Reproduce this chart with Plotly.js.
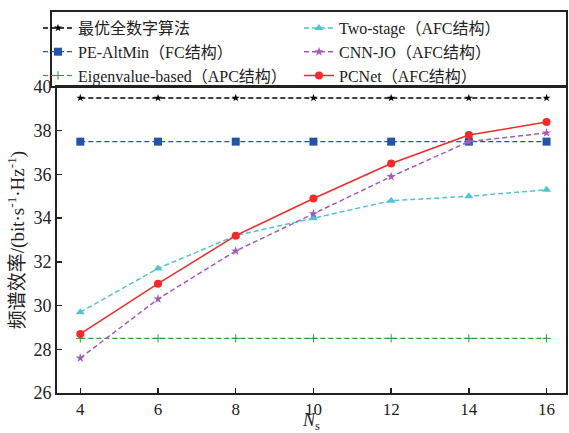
<!DOCTYPE html>
<html>
<head>
<meta charset="utf-8">
<script src="https://cdn.plot.ly/plotly-3.0.1.min.js"></script>
<style>html,body{margin:0;padding:0;background:#fff;}#chart{width:569px;height:433px;}</style>
</head>
<body>
<div id="chart"></div>
<script>
const xValues = [4, 6, 8, 10, 12, 14, 16];
const optimalDigital = [39.5, 39.5, 39.5, 39.5, 39.5, 39.5, 39.5];
const peAltMin = [37.5, 37.5, 37.5, 37.5, 37.5, 37.5, 37.5];
const eigenvalueBased = [28.5, 28.5, 28.5, 28.5, 28.5, 28.5, 28.5];
const twoStage = [29.7, 31.7, 33.2, 34.0, 34.8, 35.0, 35.3];
const cnnJO = [27.6, 30.3, 32.5, 34.2, 35.9, 37.5, 37.9];
const pcNet = [28.7, 31.0, 33.2, 34.9, 36.5, 37.8, 38.4];
const xTicks = [4, 6, 8, 10, 12, 14, 16];
const yTicks = [26, 28, 30, 32, 34, 36, 38, 40];

const names = {
  opt: '最优全数字算法',
  pe: 'PE-AltMin（FC结构）',
  eig: 'Eigenvalue-based（APC结构）',
  two: 'Two-stage（AFC结构）',
  cnn: 'CNN-JO（AFC结构）',
  pc: 'PCNet（AFC结构）'
};

const W = 569, H = 433;
const L = 57, R = 3, T = 87, B = 40;
const pw = W - L - R, ph = H - T - B;
const px = v => (v - L) / pw;
const py = v => (H - B - v) / ph;

const dashS = '5px,3px';
const traces = [
  {x: xValues, y: optimalDigital, name: names.opt, legend: 'legend', mode: 'lines+markers',
   line: {color: '#000000', width: 1.5, dash: dashS}, marker: {symbol: 'star', size: 6, color: '#000000'}},
  {x: xValues, y: peAltMin, name: names.pe, legend: 'legend', mode: 'lines+markers',
   line: {color: '#2453a8', width: 1.2, dash: dashS}, marker: {symbol: 'square', size: 8, color: '#2453a8'}},
  {x: xValues, y: eigenvalueBased, name: names.eig, legend: 'legend', mode: 'lines+markers',
   line: {color: '#2ca02c', width: 1.2, dash: dashS}, marker: {symbol: 'cross-thin', size: 6, color: '#2ca02c', line: {color: '#2ca02c', width: 1}}},
  {x: xValues, y: twoStage, name: names.two, legend: 'legend2', mode: 'lines+markers',
   line: {color: '#4fc4d4', width: 1.5, dash: dashS}, marker: {symbol: 'triangle-up', size: 8, color: '#4fc4d4'}},
  {x: xValues, y: cnnJO, name: names.cnn, legend: 'legend2', mode: 'lines+markers',
   line: {color: '#a25cb8', width: 1.5, dash: dashS}, marker: {symbol: 'star', size: 7, color: '#a25cb8'}},
  {x: xValues, y: pcNet, name: names.pc, legend: 'legend2', mode: 'lines+markers',
   line: {color: '#f22a2a', width: 1.5}, marker: {symbol: 'circle', size: 8, color: '#f22a2a'}}
];

const fontFam = '"Liberation Serif", "Times New Roman", "Noto Sans CJK SC", serif';
const legendBase = {
  orientation: 'v', xanchor: 'left', yanchor: 'top',
  traceorder: 'normal', font: {family: fontFam, size: 16, color: '#222'},
  bgcolor: 'rgba(0,0,0,0)', borderwidth: 0, tracegroupgap: 0, itemwidth: 30
};

const layout = {
  width: W, height: H,
  margin: {l: L, r: R, t: T, b: B, pad: 0},
  paper_bgcolor: '#ffffff', plot_bgcolor: '#ffffff',
  font: {family: fontFam, size: 16, color: '#222'},
  showlegend: true,
  legend: Object.assign({}, legendBase, {x: px(38), y: py(11)}),
  legend2: Object.assign({}, legendBase, {x: px(299), y: py(11)}),
  xaxis: {
    range: [3.4, 16.5], tickvals: xTicks, ticktext: xTicks.map(String),
    ticks: 'inside', ticklen: 5, tickwidth: 1.5, tickcolor: '#222',
    showline: true, linecolor: '#222', linewidth: 2, mirror: true,
    showgrid: false, zeroline: false,
    tickfont: {family: fontFam, size: 17, color: '#222'},
    title: {text: '<i>N</i><sub>s</sub>', font: {family: fontFam, size: 18, color: '#222'}, standoff: 8}
  },
  yaxis: {
    range: [26, 40], tickvals: yTicks, ticktext: yTicks.map(String),
    ticks: 'inside', ticklen: 5, tickwidth: 1.5, tickcolor: '#222',
    showline: true, linecolor: '#222', linewidth: 2, mirror: true,
    showgrid: false, zeroline: false,
    tickfont: {family: fontFam, size: 18, color: '#222'},
    title: {text: '频谱效率/(bit·s<sup>-1</sup>·Hz<sup>-1</sup>)', font: {family: fontFam, size: 19, color: '#222'}, standoff: 4}
  },
  shapes: [
    {type: 'rect', xref: 'paper', yref: 'paper', x0: px(51), x1: px(567), y0: 1, y1: py(11),
     line: {color: '#222', width: 2}, fillcolor: 'rgba(0,0,0,0)'}
  ]
};

Plotly.newPlot('chart', traces, layout, {displayModeBar: false, staticPlot: true});
</script>
</body>
</html>
